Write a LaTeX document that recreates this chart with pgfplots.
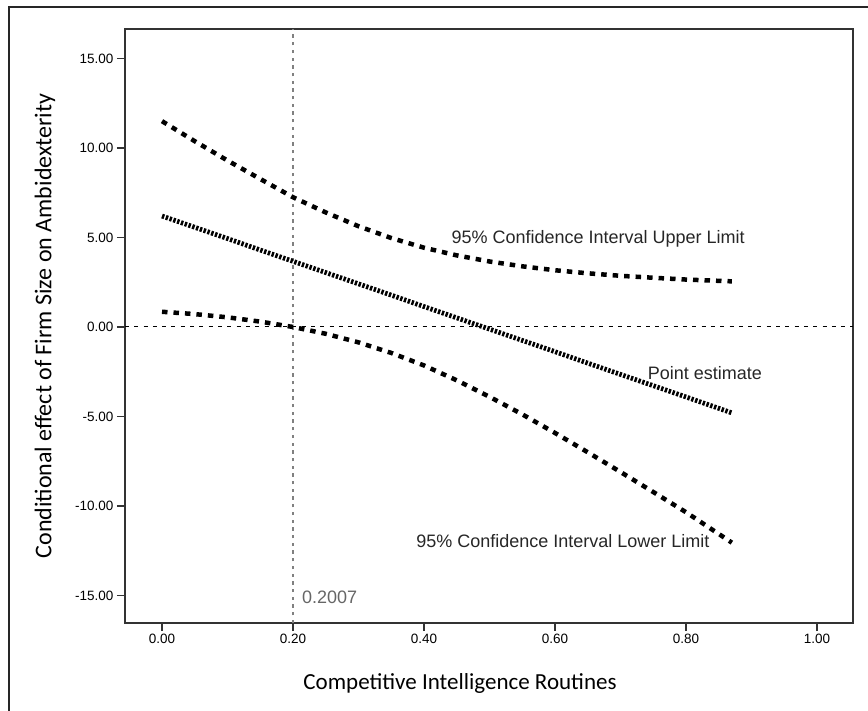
\documentclass[border=0pt]{standalone}
\usepackage{pgfplots}
\pgfplotsset{compat=1.18}
\usepackage{fontspec}
\setmainfont{Liberation Sans}
\newfontfamily\carlito{Carlito}

% Johnson-Neyman plot: conditional effect with 95% band
\pgfplotstableread{
x     est    up      lo
0.00  6.20   11.50   0.85
0.05  5.57   10.38   0.72
0.10  4.94   9.30    0.54
0.15  4.30   8.27    0.30
0.20  3.67   7.25    0.00
0.25  3.04   6.40   -0.38
0.30  2.41   5.63   -0.86
0.35  1.78   4.97   -1.45
0.40  1.14   4.43   -2.15
0.45  0.51   4.00   -2.98
0.50 -0.12   3.66   -3.90
0.55 -0.75   3.39   -4.88
0.60 -1.38   3.17   -5.92
0.65 -2.02   3.00   -7.00
0.70 -2.65   2.86   -8.10
0.75 -3.28   2.75   -9.22
0.80 -3.91   2.65   -10.35
0.87 -4.80   2.55   -12.05
}\jn

\begin{document}
\begin{tikzpicture}
\begin{axis}[
    at={(0,0)}, anchor=south west,
    scale only axis, width=728bp, height=594bp,
    xmin=-0.0565, xmax=1.055,
    ymin=-16.54, ymax=16.65,
    xtick={0,0.2,0.4,0.6,0.8,1},
    ytick={-15,-10,-5,0,5,10,15},
    xtick pos=bottom, ytick pos=left,
    tick align=outside,
    major tick length=8bp,
    tick style={line width=1.5bp, black!80},
    axis line style={line width=1.6bp, black!80},
    xticklabel style={/pgf/number format/.cd, fixed, fixed zerofill, precision=2, assume math mode=true},
    yticklabel style={/pgf/number format/.cd, fixed, fixed zerofill, precision=2, assume math mode=true},
    ticklabel style={font=\fontsize{13.5bp}{16bp}\selectfont},
    clip=false,
]
% reference lines
\addplot[black, line width=1bp, dash pattern=on 4bp off 5.3bp] coordinates {(-0.0565,0) (1.055,0)};
\addplot[black!50, line width=2bp, dash pattern=on 3.3bp off 4.4bp] coordinates {(0.2007,-16.54) (0.2007,16.65)};
% bands and estimate
\addplot[black, line width=4.5bp, dash pattern=on 5.5bp off 6bp] table[x=x, y=up] {\jn};
\addplot[black, line width=4.5bp, dash pattern=on 5.5bp off 6bp] table[x=x, y=lo] {\jn};
\addplot[black, line width=4.8bp, dash pattern=on 2.4bp off 1.6bp] table[x=x, y=est] {\jn};

\node[font=\fontsize{18bp}{21bp}\selectfont, black!85] at (axis cs:0.666,4.9) {95\% Confidence Interval Upper Limit};
\node[font=\fontsize{18bp}{21bp}\selectfont, black!85] at (axis cs:0.829,-2.57) {Point estimate};
\node[font=\fontsize{18bp}{21bp}\selectfont, black!85] at (axis cs:0.612,-11.95) {95\% Confidence Interval Lower Limit};
\node[font=\fontsize{18bp}{21bp}\selectfont, black!60, anchor=west, inner sep=0pt] at (axis cs:0.2137,-15.1) {0.2007};
\end{axis}
% axis titles and outer frame
\node[font=\carlito\fontsize{23bp}{27bp}\selectfont] at (335bp,-60bp) {Competitive Intelligence Routines};
\node[font=\carlito\fontsize{24bp}{28bp}\selectfont, rotate=90] at (-80bp,297bp) {Conditional effect of Firm Size on Ambidexterity};
\draw[black!85, line width=1.2bp] (-116bp,-88bp) -- (-116bp,616bp) -- (743bp,616bp);
\pgfresetboundingbox
\path (-125bp,-88bp) rectangle (743bp,623bp);
\end{tikzpicture}
\end{document}
